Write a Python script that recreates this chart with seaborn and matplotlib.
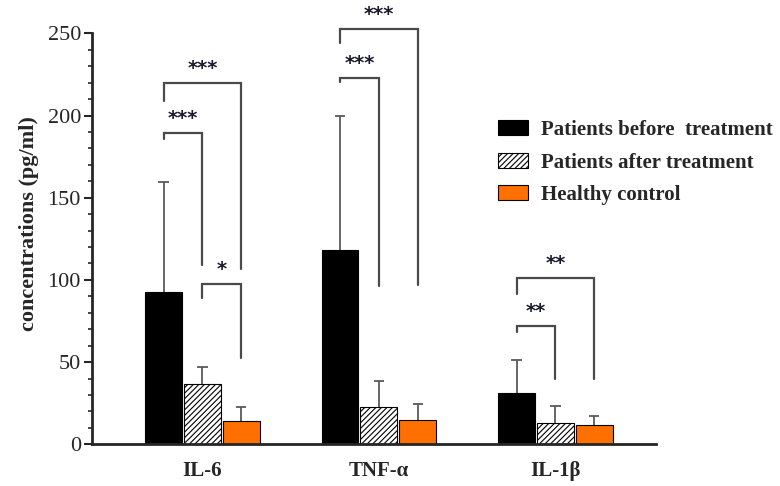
import numpy as np
import pandas as pd
import seaborn as sns
import matplotlib.pyplot as plt
from matplotlib.patches import Patch

# values (pg/ml)
cytokines = ['IL-6', 'TNF-α', 'IL-1β']
groups = ['Patients before  treatment', 'Patients after treatment', 'Healthy control']
means_before = [92.6, 118.5, 31.5]
means_after = [36.5, 22.5, 13.2]
means_control = [14.2, 14.8, 11.6]
sd_before = [67.0, 81.0, 20.0]
sd_after = [10.5, 16.0, 10.0]
sd_control = [8.7, 9.7, 5.8]

# significance brackets: (cytokine, bar a, bar b, top, left leg end, right leg end, label)
brackets = [
    (0, 0, 1, 189.5, 186.0, 109.0, '***'),
    (0, 0, 2, 220.0, 209.0, 106.5, '***'),
    (0, 1, 2, 97.5, 89.0, 52.5, '*'),
    (1, 0, 1, 223.0, 220.5, 96.5, '***'),
    (1, 0, 2, 252.5, 244.0, 97.0, '***'),
    (2, 0, 1, 72.0, 68.5, 39.5, '**'),
    (2, 0, 2, 101.0, 91.5, 39.5, '**'),
]

bar_colors = ['black', 'white', '#ff7000']
err_color = '#5a5a5a'
serif = ['Liberation Serif', 'DejaVu Serif']

df = pd.DataFrame({
    'cytokine': cytokines * 3,
    'group': [g for g in groups for _ in cytokines],
    'value': means_before + means_after + means_control,
    'sd': sd_before + sd_after + sd_control,
})

sns.set_style('ticks')
plt.rcParams['font.family'] = serif
plt.rcParams['hatch.linewidth'] = 0.8

fig = plt.figure(figsize=(7.8, 4.86), dpi=100)
ax = fig.add_axes([0.118, 0.0858, 0.723, 0.9065])

sns.barplot(data=df, x='cytokine', y='value', hue='group', order=cytokines,
            hue_order=groups, palette=bar_colors, saturation=1, width=0.66, gap=0.05,
            edgecolor='black', linewidth=0.8, errorbar=None, legend=False, ax=ax)

# patches come out grouped by hue, then by category; upper error bars only
centers = {}
for k, bar in enumerate(ax.patches[:9]):
    g, c = divmod(k, 3)
    bar.set_zorder(2)
    if g == 1:
        bar.set_hatch('//////')
    x = bar.get_x() + bar.get_width() / 2
    half_cap = bar.get_width() * 0.14
    centers[(c, g)] = x
    row = df[(df['cytokine'] == cytokines[c]) & (df['group'] == groups[g])].iloc[0]
    top = row['value'] + row['sd']
    ax.vlines(x, row['value'], top, color=err_color, lw=1.3, zorder=1)
    ax.hlines(top, x - half_cap, x + half_cap, color=err_color, lw=1.3, zorder=1)

for c, a, b, top, left_end, right_end, label in brackets:
    xa, xb = centers[(c, a)], centers[(c, b)]
    ax.plot([xa, xa, xb, xb], [left_end, top, top, right_end],
            color='#4a4a4a', lw=1.6, solid_joinstyle='miter', clip_on=False)
    ax.text((xa + xb) / 2, top + 3, label, ha='center', va='bottom',
            fontsize=14, fontweight='bold', color='#1a1a2e', family=['DejaVu Sans'])

ax.set_ylim(0, 268)
ax.set_xlim(-0.625, 2.57)
ax.set_yticks(np.arange(0, 251, 50))
ax.set_yticks(np.arange(0, 251, 10), minor=True)
ax.spines['left'].set_bounds(0, 250)
ax.spines['left'].set_linewidth(2)
ax.spines['bottom'].set_linewidth(2)
sns.despine(ax=ax)
ax.tick_params(axis='y', which='major', length=6, width=1.5, labelsize=16, pad=2)
ax.tick_params(axis='y', which='minor', length=3, width=1.2)
ax.tick_params(axis='x', length=0, labelsize=15, pad=12)
for lab in ax.get_xticklabels():
    lab.set_fontweight('bold')
ax.set_xlabel('')
ax.set_ylabel('concentrations (pg/ml)', fontsize=16, fontweight='bold', labelpad=6)

handles = [Patch(facecolor=bar_colors[i], edgecolor='black', linewidth=0.8,
                 hatch='//////' if i == 1 else None) for i in range(3)]
ax.legend(handles, groups, loc='upper left', bbox_to_anchor=(0.705, 0.755),
          frameon=False, prop={'family': serif, 'weight': 'bold', 'size': 15},
          handlelength=1.45, handleheight=0.72, handletextpad=0.62, labelspacing=0.6,
          borderaxespad=0)

fig.savefig('out.png', dpi=100)
